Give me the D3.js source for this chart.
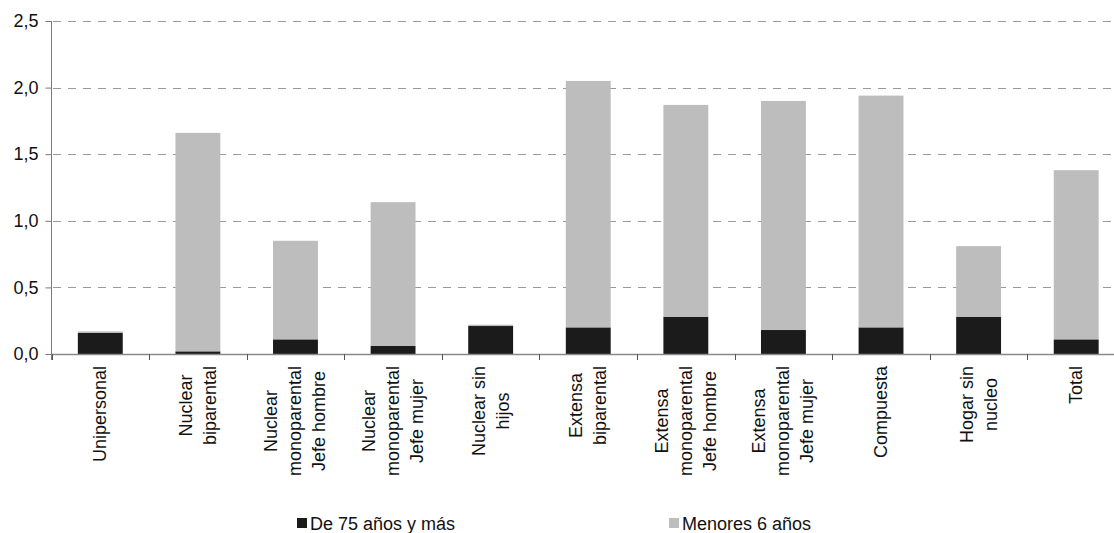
<!DOCTYPE html>
<html>
<head>
<meta charset="utf-8">
<script src="https://cdn.jsdelivr.net/npm/d3@7"></script>
<style>
  html, body { margin: 0; padding: 0; background: #fff; }
  svg { display: block; font-family: "Liberation Sans", Arial, sans-serif; }
</style>
</head>
<body>
<svg id="chart" width="1114" height="533"></svg>
<script>
// Household types (each label split into its display lines)
const categories = [
  ["Unipersonal"],
  ["Nuclear", "biparental"],
  ["Nuclear", "monoparental", "Jefe hombre"],
  ["Nuclear", "monoparental", "Jefe mujer"],
  ["Nuclear sin", "hijos"],
  ["Extensa", "biparental"],
  ["Extensa", "monoparental", "Jefe hombre"],
  ["Extensa", "monoparental", "Jefe mujer"],
  ["Compuesta"],
  ["Hogar sin", "nucleo"],
  ["Total"]
];

// Average members per household, by age group
const mayores75 = [0.16, 0.02, 0.11, 0.06, 0.21, 0.20, 0.28, 0.18, 0.20, 0.28, 0.11];
const menores6  = [0.01, 1.64, 0.74, 1.08, 0.01, 1.85, 1.59, 1.72, 1.74, 0.53, 1.27];

const seriesNames = ["De 75 años y más", "Menores 6 años"];
const seriesColors = ["#1b1b1b", "#bdbdbd"];

const yTicks = [0, 0.5, 1.0, 1.5, 2.0, 2.5];

const svg = d3.select("#chart");
const keys = categories.map(c => c.join(" "));

const x = d3.scaleBand()
  .domain(keys)
  .range([51.5, 1125])
  .paddingInner(0.54)
  .paddingOuter(0.27);

const y = d3.scaleLinear()
  .domain([0, 2.5])
  .range([354, 21]);

const fmt = d => d.toFixed(1).replace(".", ",");

// Dashed horizontal gridlines
svg.append("g")
  .selectAll("line")
  .data(yTicks.filter(t => t > 0))
  .join("line")
  .attr("x1", 53)
  .attr("x2", 1114)
  .attr("y1", d => Math.round(y(d)) + 0.5)
  .attr("y2", d => Math.round(y(d)) + 0.5)
  .attr("stroke", "#9a9a9a")
  .attr("stroke-width", 1)
  .attr("stroke-dasharray", "8,7");

// Stacked bars
const table = keys.map((k, i) => ({ key: k, a: mayores75[i], b: menores6[i] }));
const stack = d3.stack().keys(["a", "b"])(table);

svg.append("g")
  .selectAll("g")
  .data(stack)
  .join("g")
  .attr("fill", (d, i) => seriesColors[i])
  .selectAll("rect")
  .data(d => d)
  .join("rect")
  .attr("x", d => x(d.data.key))
  .attr("width", x.bandwidth())
  .attr("y", d => y(d[1]))
  .attr("height", d => y(d[0]) - y(d[1]));

// Y axis
const yAxis = svg.append("g")
  .attr("transform", "translate(51.5,0)")
  .call(d3.axisLeft(y).tickValues(yTicks).tickFormat(fmt).tickSize(6).tickPadding(7));
yAxis.select(".domain").attr("stroke", "#7a7a7a").attr("d", "M0,21V360");
yAxis.selectAll(".tick line").attr("stroke", "#7a7a7a");
yAxis.selectAll(".tick text")
  .attr("font-size", 18)
  .attr("fill", "#111")
  .attr("font-family", "Liberation Sans, Arial, sans-serif");

// X axis baseline with ticks at category boundaries
const xg = svg.append("g");
xg.append("line")
  .attr("x1", 51.5).attr("x2", 1125)
  .attr("y1", y(0) + 0.5).attr("y2", y(0) + 0.5)
  .attr("stroke", "#8a8a8a").attr("stroke-width", 1.5);
xg.selectAll("line.tick")
  .data(d3.range(keys.length + 1))
  .join("line")
  .attr("class", "tick")
  .attr("x1", i => Math.round(x.range()[0] + i * x.step()) + 0.5)
  .attr("x2", i => Math.round(x.range()[0] + i * x.step()) + 0.5)
  .attr("y1", y(0))
  .attr("y2", y(0) + 6)
  .attr("stroke", "#555");

// Rotated, centred multi-line category labels
const labelTop = 366;
const lineGap = 24;
const labels = svg.append("g")
  .attr("font-size", 18)
  .attr("fill", "#111");

categories.forEach((lines, i) => {
  const cx = x(keys[i]) + x.bandwidth() / 2;
  const g = labels.append("g")
    .attr("transform", `translate(${cx},${labelTop}) rotate(-90)`);
  const texts = g.selectAll("text")
    .data(lines)
    .join("text")
    .attr("text-anchor", "middle")
    .attr("y", (d, j) => (j - (lines.length - 1) / 2) * lineGap)
    .attr("dy", "0.33em")
    .text(d => d);
  const maxW = d3.max(texts.nodes(), n => n.getComputedTextLength());
  texts.attr("x", -maxW / 2);
});

// Legend
const legendX = [297, 669];
const legend = svg.append("g");
seriesNames.forEach((name, i) => {
  legend.append("rect")
    .attr("x", legendX[i]).attr("y", 518)
    .attr("width", 10).attr("height", 10)
    .attr("fill", seriesColors[i]);
  legend.append("text")
    .attr("x", legendX[i] + 13).attr("y", 530)
    .attr("font-size", 18)
    .attr("fill", "#111")
    .text(name);
});
</script>
</body>
</html>
